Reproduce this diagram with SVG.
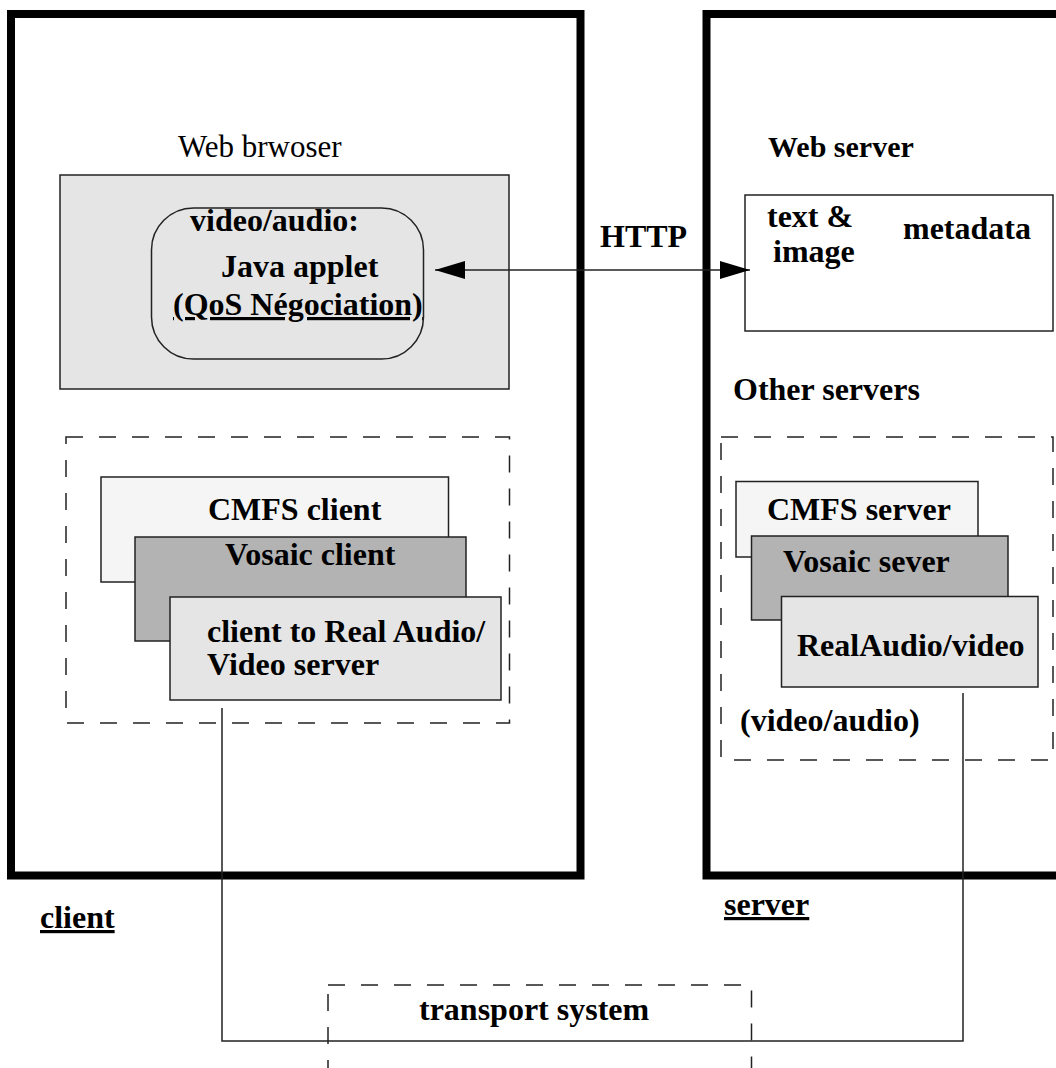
<svg xmlns="http://www.w3.org/2000/svg" width="1056" height="1068" viewBox="0 0 1056 1068">
<style>
  text { font-family: "Liberation Serif", "Times New Roman", serif; font-size: 32px; font-weight: bold; fill: #000; }
  .reg { font-weight: normal; }
  .ul { text-decoration: underline; }
  .thick { fill: none; stroke: #000; stroke-width: 8; }
  .thin { stroke: #222; stroke-width: 1.5; }
  .dash { fill: none; stroke: #222; stroke-width: 1.5; stroke-dasharray: 17 16; }
  .conn { fill: none; stroke: #222; stroke-width: 1.5; }
</style>
<defs>
  <marker id="arrow" viewBox="0 0 30 18" refX="30" refY="9" markerWidth="30" markerHeight="18" markerUnits="userSpaceOnUse" orient="auto-start-reverse">
    <path d="M0,0 L30,9 L0,18 Z" fill="#000"/>
  </marker>
</defs>
<rect width="1056" height="1068" fill="#fff"/>

<g id="client">
  <rect class="thick" x="11" y="14" width="569.5" height="861.5"/>
  <text x="40" y="928" class="ul">client</text>
</g>
<g id="server">
  <rect class="thick" x="706.5" y="14" width="400" height="861.5"/>
  <text x="724" y="915" class="ul">server</text>
</g>

<g id="web-browser">
  <text x="178" y="157" class="reg" style="font-size:31px">Web brwoser</text>
  <rect class="thin" x="60" y="175" width="449" height="214" fill="#e5e5e5"/>
</g>
<g id="java-applet">
  <rect class="thin" x="151.5" y="208" width="272" height="151" rx="42" ry="42" fill="#e5e5e5"/>
  <text x="190" y="231">video/audio:</text>
  <text x="221" y="277">Java applet</text>
  <text x="173" y="315" class="ul">(QoS Négociation)</text>
</g>

<g id="web-server">
  <text x="768" y="157" style="font-size:30px">Web server</text>
  <rect class="thin" x="745" y="195" width="308" height="136" fill="#fff"/>
  <text x="767" y="227">text &amp;</text>
  <text x="773" y="262">image</text>
  <text x="903" y="239">metadata</text>
</g>

<g id="client-apps">
  <rect class="dash" x="66" y="437" width="443.5" height="286"/>
  <rect class="thin" x="101" y="477" width="347.5" height="105" fill="#f5f5f5"/>
  <text x="208" y="520">CMFS client</text>
  <rect class="thin" x="135" y="537" width="331" height="104" fill="#b3b3b3"/>
  <text x="225" y="565">Vosaic client</text>
  <rect class="thin" x="170" y="597" width="331" height="103" fill="#e5e5e5"/>
  <text x="207" y="642">client to Real Audio/</text>
  <text x="207" y="675">Video server</text>
</g>

<g id="other-servers">
  <text x="733" y="400">Other servers</text>
  <rect class="dash" x="721" y="437" width="332" height="323"/>
  <rect class="thin" x="736" y="481.5" width="242" height="75.5" fill="#f5f5f5"/>
  <text x="767" y="520">CMFS server</text>
  <rect class="thin" x="751.5" y="536" width="256.5" height="84" fill="#b3b3b3"/>
  <text x="783" y="572">Vosaic sever</text>
  <rect class="thin" x="781.5" y="596.5" width="256.5" height="90.5" fill="#e5e5e5"/>
  <text x="797" y="656">RealAudio/video</text>
  <text x="740" y="731">(video/audio)</text>
</g>

<g id="transport">
  <rect class="dash" x="328" y="985" width="423.5" height="200"/>
  <text x="419" y="1020">transport system</text>
</g>

<g id="connectors">
  <line class="conn" x1="435" y1="270" x2="750" y2="270" marker-start="url(#arrow)" marker-end="url(#arrow)"/>
  <text x="600" y="247">HTTP</text>
  <path class="conn" d="M222,708 V1041 H963 V693"/>
</g>
</svg>
